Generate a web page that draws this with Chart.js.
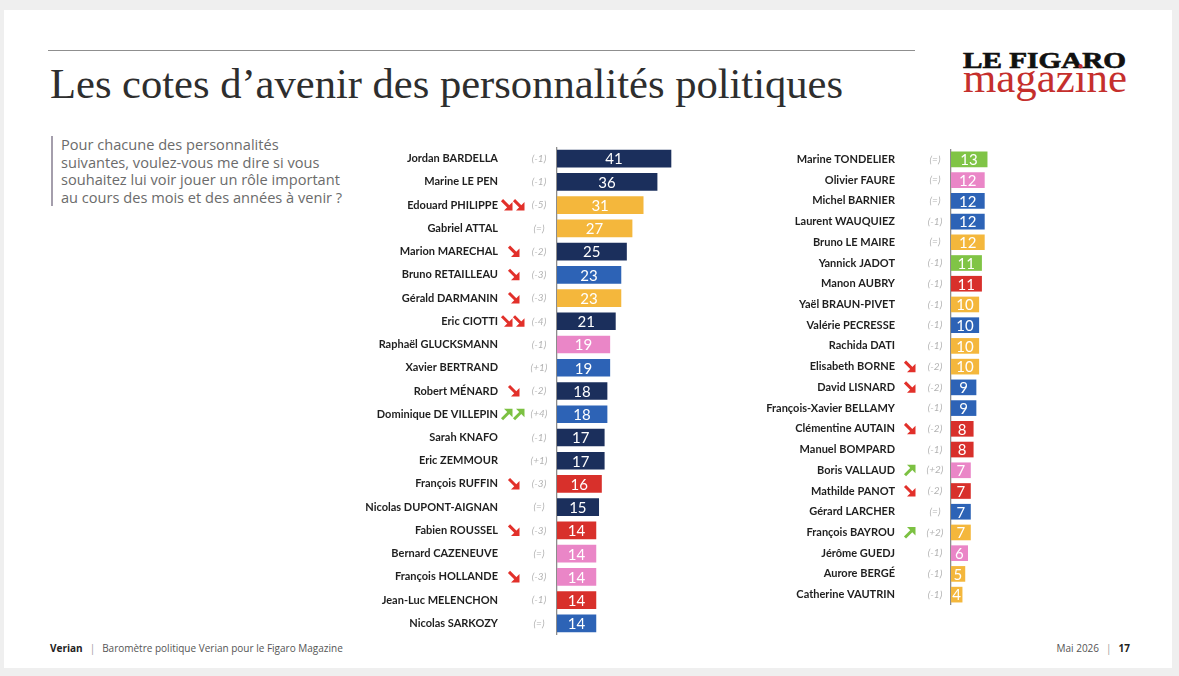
<!DOCTYPE html>
<html lang="fr">
<head>
<meta charset="utf-8">
<title>Les cotes d’avenir des personnalités politiques</title>
<script src="https://cdn.jsdelivr.net/npm/chart.js@4.4.1/dist/chart.umd.min.js"></script>
<style>
  html, body { margin: 0; padding: 0; }
  body { width: 1179px; height: 676px; background: #efefef; position: relative; overflow: hidden; font-family: Lato, sans-serif; }
  #slide { position: absolute; left: 4px; top: 10px; width: 1168px; height: 658px; background: #fff; }
  .abs { position: absolute; white-space: nowrap; }
  #rule { left: 48px; top: 50px; width: 867px; height: 1px; background: #8f8f8f; }
  #title { left: 50px; top: 63px; font: 42px/42px "Liberation Serif", serif; color: #2e2e2e; transform-origin: left top; }
  #logo1 { left: 963px; top: 48px; font: bold 24px/24px "Liberation Serif", serif; color: #111;
           -webkit-text-stroke: 0.7px #111; transform-origin: left top; }
  #logo2 { left: 963px; top: 57px; font: 42px/42px "Liberation Serif", serif; color: #c52f2d; transform-origin: left top; }
  #question { left: 51px; top: 136px; border-left: 2px solid #a49eac; padding-left: 8px;
              font: 14.6px/17.5px "Open Sans", sans-serif; color: #6b6b6b; }
  .chartbox { position: absolute; }
  #leftBox  { left: 330px; top: 147px; width: 366px; height: 488px; }
  #rightBox { left: 740px; top: 149px; width: 350px; height: 456px; }
  #foot1 { left: 50px; top: 641px; font: 10px/14px "Open Sans", sans-serif; color: #555; }
  #foot1 b, #foot2 b { color: #222; }
  #foot2 { right: 49px; top: 641px; font: 10px/14px "Open Sans", sans-serif; color: #555; }
  .sep { color: #999; margin: 0 7px; }
</style>
</head>
<body>
<div id="slide"></div>
<div id="rule" class="abs"></div>
<div id="title" class="abs">Les cotes d’avenir des personnalités politiques</div>
<div id="logo1" class="abs">LE FIGARO</div>
<div id="logo2" class="abs">magazine</div>
<div id="question" class="abs">Pour chacune des personnalités<br>suivantes, voulez-vous me dire si vous<br>souhaitez lui voir jouer un rôle important<br>au cours des mois et des années à venir ?</div>
<div id="leftBox" class="chartbox"><canvas id="leftChart"></canvas></div>
<div id="rightBox" class="chartbox"><canvas id="rightChart"></canvas></div>
<div id="foot1" class="abs"><b>Verian</b><span class="sep">|</span>Baromètre politique Verian pour le Figaro Magazine</div>
<div id="foot2" class="abs">Mai 2026<span class="sep">|</span><b>17</b></div>

<script>
// ---- data -------------------------------------------------------

const leftNames = [
  'Jordan BARDELLA', 'Marine LE PEN', 'Edouard PHILIPPE', 'Gabriel ATTAL', 'Marion MARECHAL',
  'Bruno RETAILLEAU', 'Gérald DARMANIN', 'Eric CIOTTI', 'Raphaël GLUCKSMANN', 'Xavier BERTRAND',
  'Robert MÉNARD', 'Dominique DE VILLEPIN', 'Sarah KNAFO', 'Eric ZEMMOUR', 'François RUFFIN',
  'Nicolas DUPONT-AIGNAN', 'Fabien ROUSSEL', 'Bernard CAZENEUVE', 'François HOLLANDE',
  'Jean-Luc MELENCHON', 'Nicolas SARKOZY'
];
const leftValues  = [41, 36, 31, 27, 25, 23, 23, 21, 19, 19, 18, 18, 17, 17, 16, 15, 14, 14, 14, 14, 14];
const leftChanges = ['-1', '-1', '-5', '=', '-2', '-3', '-3', '-4', '-1', '+1', '-2', '+4', '-1', '+1', '-3', '=', '-3', '=', '-3', '-1', '='];
// arrows: negative = red down arrows, positive = green up arrows, magnitude = how many
const leftTrend   = [0, 0, -2, 0, -1, -1, -1, -2, 0, 0, -1, 2, 0, 0, -1, 0, -1, 0, -1, 0, 0];
const leftFamily  = ['rn', 'rn', 'centre', 'centre', 'rn', 'lr', 'centre', 'rn', 'ps', 'lr', 'rn', 'lr', 'rn', 'rn',
                     'lfi', 'rn', 'lfi', 'ps', 'ps', 'lfi', 'lr'];

const rightNames = [
  'Marine TONDELIER', 'Olivier FAURE', 'Michel BARNIER', 'Laurent WAUQUIEZ', 'Bruno LE MAIRE',
  'Yannick JADOT', 'Manon AUBRY', 'Yaël BRAUN-PIVET', 'Valérie PECRESSE', 'Rachida DATI',
  'Elisabeth BORNE', 'David LISNARD', 'François-Xavier BELLAMY', 'Clémentine AUTAIN', 'Manuel BOMPARD',
  'Boris VALLAUD', 'Mathilde PANOT', 'Gérard LARCHER', 'François BAYROU', 'Jérôme GUEDJ',
  'Aurore BERGÉ', 'Catherine VAUTRIN'
];
const rightValues  = [13, 12, 12, 12, 12, 11, 11, 10, 10, 10, 10, 9, 9, 8, 8, 7, 7, 7, 7, 6, 5, 4];
const rightChanges = ['=', '=', '=', '-1', '=', '-1', '-1', '-1', '-1', '-1', '-2', '-2', '-1', '-2', '-1', '+2', '-2', '=', '+2', '-1', '-1', '-1'];
const rightTrend   = [0, 0, 0, 0, 0, 0, 0, 0, 0, 0, -1, -1, 0, -1, 0, 1, -1, 0, 1, 0, 0, 0];
const rightFamily  = ['eco', 'ps', 'lr', 'lr', 'centre', 'eco', 'lfi', 'centre', 'lr', 'centre', 'centre', 'lr', 'lr',
                      'lfi', 'lfi', 'ps', 'lfi', 'lr', 'centre', 'ps', 'centre', 'centre'];

const FAMILY_COLORS = {
  rn: '#1b2f5c', centre: '#f4b73c', lr: '#2d63b6', ps: '#ea86c7', lfi: '#d8302b', eco: '#80c446'
};

// ---- plugins ----------------------------------------------------

Chart.defaults.font.family = 'Lato, sans-serif';

function drawArrow(ctx, cx, cy, up) {
  ctx.save();
  ctx.translate(cx, cy);
  if (up) ctx.scale(1, -1);
  ctx.strokeStyle = ctx.fillStyle = up ? '#7cc142' : '#e2302a';
  ctx.lineWidth = 3;
  ctx.beginPath(); ctx.moveTo(-5, -5); ctx.lineTo(2, 2); ctx.stroke();
  ctx.beginPath(); ctx.moveTo(5.5, 5.5); ctx.lineTo(5.5, -3); ctx.lineTo(-3, 5.5); ctx.closePath(); ctx.fill();
  ctx.restore();
}

const valueLabels = {
  id: 'valueLabels',
  afterDatasetsDraw(chart) {
    const ctx = chart.ctx;
    const ds = chart.data.datasets[0];
    ctx.save();
    ctx.fillStyle = '#fff';
    ctx.font = '15px Lato, sans-serif';
    ctx.textAlign = 'center';
    ctx.textBaseline = 'middle';
    chart.getDatasetMeta(0).data.forEach((bar, i) => {
      const { x, y, base } = bar.getProps(['x', 'y', 'base'], true);
      ctx.fillText(ds.data[i], (x + base) / 2, y + 1);
    });
    ctx.restore();
  }
};

const sideNotes = {
  id: 'sideNotes',
  afterDraw(chart, args, opts) {
    const { ctx, chartArea, scales: { y } } = chart;
    ctx.save();
    ctx.font = 'italic 10px Lato, sans-serif';
    ctx.fillStyle = '#b3b3b3';
    ctx.textAlign = 'center';
    ctx.textBaseline = 'middle';
    opts.changes.forEach((c, i) => {
      const py = y.getPixelForValue(i);
      ctx.fillText('(' + c + ')', chartArea.left - opts.changeGap, py);
      const t = opts.trend[i];
      if (!t) return;
      const xs = Math.abs(t) === 2 ? opts.doubleGap : [opts.singleGap];
      xs.forEach(dx => drawArrow(ctx, chartArea.left - dx, py, t > 0));
    });
    ctx.restore();
  }
};

// ---- charts -----------------------------------------------------

function makeChart(id, names, values, families, changes, trend, cfg) {
  return new Chart(document.getElementById(id), {
    type: 'bar',
    data: {
      labels: names,
      datasets: [{
        data: values,
        backgroundColor: families.map(f => FAMILY_COLORS[f]),
        barThickness: cfg.thickness,
        borderWidth: 0,
      }]
    },
    options: {
      indexAxis: 'y',
      responsive: true,
      maintainAspectRatio: false,
      animation: false,
      layout: { padding: 0 },
      plugins: {
        legend: { display: false },
        tooltip: { enabled: false },
        sideNotes: { changes, trend, changeGap: cfg.changeGap, singleGap: cfg.singleGap, doubleGap: [50, 38] },
      },
      scales: {
        x: { display: false, min: 0, max: 50 },
        y: {
          // fixed axis width, and no vertical padding from the big tick padding
          afterFit: s => { s.width = cfg.axisWidth; s.paddingTop = 0; s.paddingBottom = 0; },
          grid: { display: false, drawTicks: false },
          border: { display: true, color: '#8c8c8c', width: 1.3 },
          ticks: {
            autoSkip: false,
            padding: cfg.namePad,
            color: '#1f1f1f',
            font: { family: 'Lato, sans-serif', weight: 'bold', size: 11 },
          }
        }
      }
    },
    plugins: [valueLabels, sideNotes]
  });
}

makeChart('leftChart', leftNames, leftValues, leftFamily, leftChanges, leftTrend,
  { thickness: 17, axisWidth: 227, namePad: 59, changeGap: 18, singleGap: 43 });
makeChart('rightChart', rightNames, rightValues, rightFamily, rightChanges, rightTrend,
  { thickness: 15, axisWidth: 211, namePad: 56, changeGap: 16, singleGap: 41 });

// stretch header texts to the widths they take on the slide
function fitWidth(id, target) {
  const el = document.getElementById(id);
  const w = el.getBoundingClientRect().width;
  el.style.transform = 'scaleX(' + (target / w) + ')';
}
fitWidth('title', 793);
fitWidth('logo1', 163);
fitWidth('logo2', 164);
</script>
</body>
</html>
